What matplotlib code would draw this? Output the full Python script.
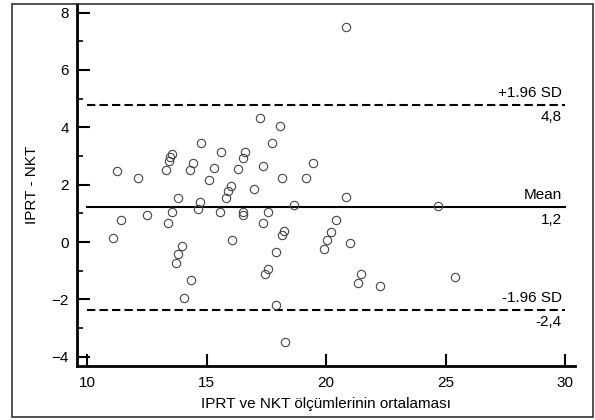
import matplotlib.pyplot as plt
from matplotlib.patches import Rectangle

plt.rcParams['font.family'] = ['Liberation Sans', 'DejaVu Sans']

# Mean of the two measurements (x) and their difference (y)
means = [11.27, 12.15, 13.31, 13.42, 13.47, 13.56, 14.78, 14.42, 14.31, 15.31,
         15.10, 15.58, 13.79, 14.71, 17.21, 18.06, 17.75, 16.61, 16.51, 16.30,
         17.36, 19.43, 18.16, 19.16, 16.03, 15.91, 15.80, 16.96, 18.64, 11.41,
         11.10, 12.52, 13.54, 13.37, 14.62, 15.55, 13.96, 13.81, 13.70, 14.35,
         14.07, 16.54, 16.50, 17.56, 17.36, 18.24, 18.16, 16.05, 17.88, 17.57,
         17.46, 20.39, 20.21, 20.04, 19.90, 17.92, 18.27, 20.82, 24.66, 20.99,
         21.45, 21.31, 22.25, 25.40, 20.82]
diffs = [2.47, 2.25, 2.53, 2.81, 2.95, 3.06, 3.46, 2.76, 2.53, 2.57,
         2.16, 3.15, 1.54, 1.38, 4.34, 4.04, 3.46, 3.15, 2.94, 2.56,
         2.65, 2.74, 2.25, 2.25, 1.96, 1.78, 1.54, 1.86, 1.28, 0.76,
         0.15, 0.96, 1.06, 0.65, 1.15, 1.06, -0.13, -0.43, -0.73, -1.31,
         -1.94, 1.06, 0.94, 1.06, 0.65, 0.38, 0.26, 0.07, -0.33, -0.93,
         -1.13, 0.77, 0.35, 0.07, -0.23, -2.21, -3.50, 1.56, 1.27, -0.02,
         -1.11, -1.42, -1.53, -1.22, 7.50]

mean_diff = 1.21
upper_loa = 4.78
lower_loa = -2.36
line_labels = ["+1.96 SD", "Mean", "-1.96 SD"]
value_labels = ["4,8", "1,2", "-2,4"]

fig = plt.figure(figsize=(5.95, 4.2), dpi=100)
ax = fig.add_axes([77 / 595, 1 - 366 / 420, 498 / 595, 362 / 420])

# frame around the whole picture
fig.patches.append(Rectangle((12 / 595, 1 - 416.5 / 420), 580.5 / 595, 413 / 420,
                             transform=fig.transFigure, fill=False,
                             edgecolor='#333333', linewidth=1.2))

ax.plot(means, diffs, 'o', mfc='none', mec='#444444', ms=6, mew=0.8, zorder=3)

for yv, style in [(upper_loa, '--'), (mean_diff, '-'), (lower_loa, '--')]:
    ax.plot([10, 30], [yv, yv], color='black', linestyle=style, linewidth=1.5,
            dashes=(4, 2) if style == '--' else (None, None), zorder=2)

for yv, top, bottom in zip([upper_loa, mean_diff, lower_loa], line_labels, value_labels):
    ax.text(29.85, yv + 0.18, top, ha='right', va='bottom', fontsize=11)
    ax.text(29.85, yv - 0.18, bottom, ha='right', va='top', fontsize=11)

ax.set_xlim(9.58, 30.4)
ax.set_ylim(-4.32, 8.3)
ax.set_xticks([10, 15, 20, 25, 30])
ax.set_yticks([-4, -2, 0, 2, 4, 6, 8])
ax.set_yticks([-3, -1, 1, 3, 5, 7], minor=True)
ax.tick_params(direction='in', length=9, width=1.5, labelsize=11, pad=6)
ax.tick_params(which='minor', direction='in', length=4, width=1.2)
ax.tick_params(axis='x', pad=7)

ax.spines['top'].set_visible(False)
ax.spines['right'].set_visible(False)
ax.spines['left'].set_linewidth(2)
ax.spines['bottom'].set_linewidth(2)

ax.set_xlabel("IPRT ve NKT ölçümlerinin ortalaması", fontsize=11, labelpad=5)
ax.set_ylabel("IPRT - NKT", fontsize=11, labelpad=9)

fig.savefig("out.png", dpi=100)
